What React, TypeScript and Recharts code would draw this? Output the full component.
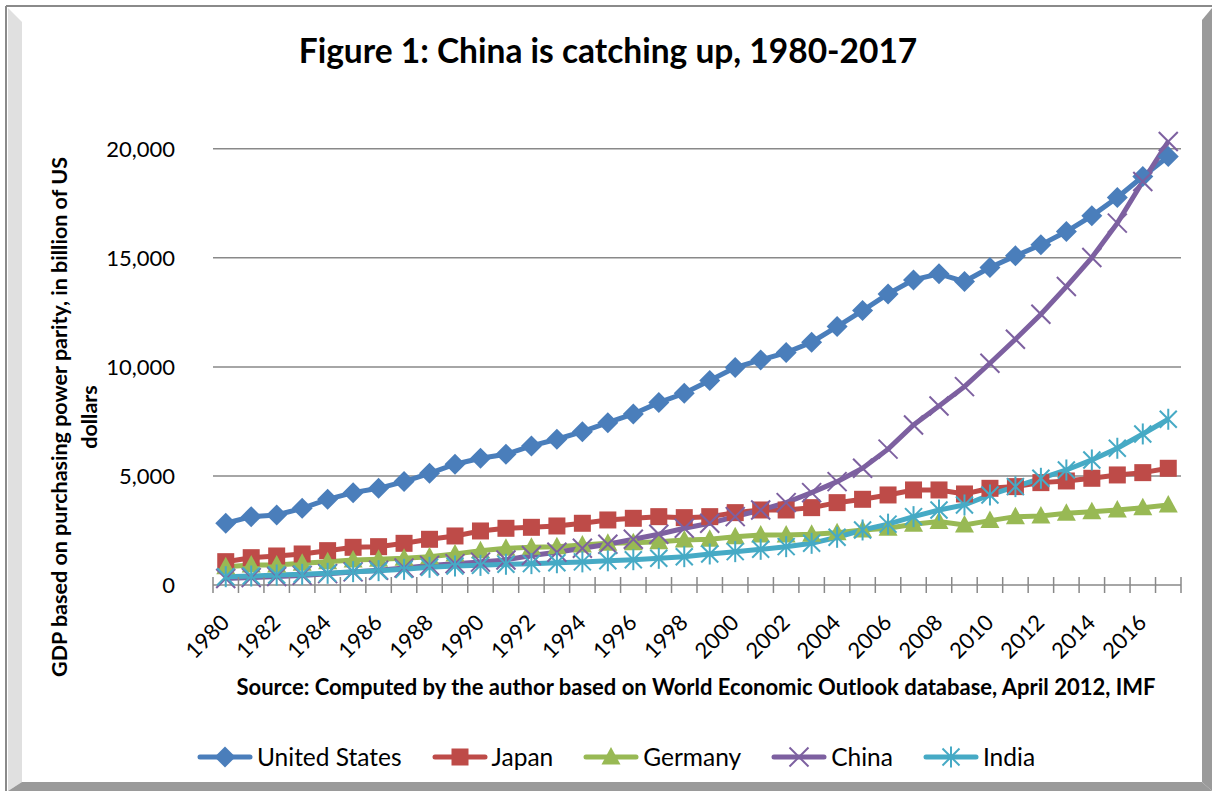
import React from "react";
import { LineChart, Line, XAxis, YAxis, ReferenceLine } from "recharts";

const YEARS = [
  "1980", "1981", "1982", "1983", "1984", "1985", "1986", "1987", "1988", "1989",
  "1990", "1991", "1992", "1993", "1994", "1995", "1996", "1997", "1998", "1999",
  "2000", "2001", "2002", "2003", "2004", "2005", "2006", "2007", "2008", "2009",
  "2010", "2011", "2012", "2013", "2014", "2015", "2016", "2017",
];

const US = [
  2830, 3134, 3211, 3517, 3930, 4235, 4434, 4740, 5123, 5536,
  5811, 5995, 6376, 6683, 7032, 7445, 7844, 8363, 8792, 9372,
  9968, 10321, 10657, 11132, 11850, 12583, 13348, 13990, 14266, 13913,
  14556, 15091, 15596, 16206, 16926, 17766, 18729, 19646,
];
const JAPAN = [
  1070, 1253, 1330, 1422, 1575, 1728, 1758, 1911, 2096, 2248,
  2477, 2600, 2645, 2706, 2830, 2982, 3058, 3134, 3089, 3134,
  3318, 3440, 3440, 3547, 3776, 3930, 4128, 4358, 4358, 4174,
  4434, 4511, 4694, 4770, 4893, 5046, 5152, 5352,
];
const GERMANY = [
  841, 917, 917, 994, 1070, 1147, 1177, 1223, 1299, 1422,
  1575, 1682, 1728, 1758, 1835, 1911, 1942, 1988, 2064, 2094,
  2217, 2294, 2294, 2325, 2401, 2523, 2600, 2784, 2906, 2752,
  2952, 3134, 3165, 3288, 3364, 3440, 3547, 3670,
];
const CHINA = [
  300, 340, 390, 440, 520, 600, 680, 780, 900, 980,
  1050, 1150, 1350, 1500, 1683, 1867, 2096, 2325, 2600, 2830,
  3134, 3440, 3776, 4235, 4740, 5353, 6230, 7339, 8211, 9096,
  10169, 11270, 12417, 13683, 15013, 16591, 18500, 20335,
];
const INDIA = [
  381, 412, 459, 490, 535, 612, 657, 718, 810, 871,
  900, 950, 980, 1020, 1060, 1110, 1160, 1223, 1299, 1422,
  1529, 1636, 1758, 1911, 2187, 2523, 2790, 3134, 3440, 3670,
  4128, 4511, 4893, 5275, 5734, 6270, 6926, 7600,
];
const Y_TICKS = [0, 5000, 10000, 15000, 20000];

const SERIES = [
  { key: "us", name: "United States", values: US, color: "#4A7EBB", marker: "diamond" },
  { key: "japan", name: "Japan", values: JAPAN, color: "#BE4B48", marker: "square" },
  { key: "germany", name: "Germany", values: GERMANY, color: "#98B954", marker: "triangle" },
  { key: "china", name: "China", values: CHINA, color: "#7D60A0", marker: "cross" },
  { key: "india", name: "India", values: INDIA, color: "#46AAC5", marker: "star" },
];

const data = YEARS.map((year, i) => {
  const row: Record<string, string | number> = { year };
  SERIES.forEach((s) => (row[s.key] = s.values[i]));
  return row;
});

const FONT = "Lato, 'Open Sans', sans-serif";
const GRID = "#898989";
const STEP = 968 / YEARS.length;

function Marker({ type, cx, cy, color }: { type: string; cx: number; cy: number; color: string }) {
  if (type === "diamond")
    return <polygon points={`${cx},${cy - 10.5} ${cx + 10.5},${cy} ${cx},${cy + 10.5} ${cx - 10.5},${cy}`} fill={color} />;
  if (type === "square") return <rect x={cx - 8.5} y={cy - 8.5} width={17} height={17} fill={color} />;
  if (type === "triangle")
    return <polygon points={`${cx},${cy - 10} ${cx + 9.5},${cy + 7.5} ${cx - 9.5},${cy + 7.5}`} fill={color} />;
  if (type === "cross")
    return (
      <g stroke={color} strokeWidth={2}>
        <line x1={cx - 9.5} y1={cy - 9.5} x2={cx + 9.5} y2={cy + 9.5} />
        <line x1={cx - 9.5} y1={cy + 9.5} x2={cx + 9.5} y2={cy - 9.5} />
      </g>
    );
  return (
    <g stroke={color} strokeWidth={2}>
      <line x1={cx - 8.5} y1={cy - 8.5} x2={cx + 8.5} y2={cy + 8.5} />
      <line x1={cx - 8.5} y1={cy + 8.5} x2={cx + 8.5} y2={cy - 8.5} />
      <line x1={cx} y1={cy - 10.5} x2={cx} y2={cy + 10.5} />
    </g>
  );
}

function YearTick(props: any) {
  const { x, y, payload } = props;
  const i = payload.index ?? props.index;
  const half = STEP / 2;
  return (
    <g>
      <line x1={x - half} x2={x - half} y1={y - 8} y2={y + 8} stroke={GRID} strokeWidth={1.5} />
      {i === YEARS.length - 1 && (
        <line x1={x + half} x2={x + half} y1={y - 8} y2={y + 8} stroke={GRID} strokeWidth={1.5} />
      )}
      {i % 2 === 0 && (
        <text
          x={x + 5}
          y={y + 39}
          transform={`rotate(-45 ${x + 5} ${y + 39})`}
          textAnchor="end"
          fontFamily={FONT}
          fontSize={22}
          fill="#000"
        >
          {payload.value}
        </text>
      )}
    </g>
  );
}

function Frame() {
  return (
    <svg width={1212} height={791} style={{ position: "absolute", left: 0, top: 0 }}>
      <rect x={0} y={0} width={1212} height={791} fill="#fff" />
      <polygon points="8,8 22,22 22,782 8,791" fill="#e0e0e0" />
      <polygon points="1202,20 1212,8 1212,791 1202,782" fill="#9a9a9a" />
      <polygon points="8,791 22,782 1202,782 1212,791" fill="#9a9a9a" />
      <line x1={6} y1={6} x2={1212} y2={6} stroke="#8a8a8a" strokeWidth={2} />
      <line x1={6} y1={6} x2={6} y2={791} stroke="#8a8a8a" strokeWidth={2} />
      <text x={608} y={63} textAnchor="middle" fontFamily={FONT} fontWeight={700} fontSize={33.5}>
        Figure 1: China is catching up, 1980-2017
      </text>
      <text x={696} y={695} textAnchor="middle" fontFamily={FONT} fontWeight={700} fontSize={22}>
        Source: Computed by the author based on World Economic Outlook database, April 2012, IMF
      </text>
      <g transform="rotate(-90 0 0)" fontFamily={FONT} fontWeight={700} fontSize={21.5} textAnchor="middle">
        <text x={-417} y={67}>GDP based on purchasing power parity, in billion of US</text>
        <text x={-417} y={97}>dollars</text>
      </g>
    </svg>
  );
}

function LegendRow() {
  return (
    <div
      style={{
        position: "absolute",
        left: 0,
        top: 742,
        width: 1232,
        display: "flex",
        justifyContent: "center",
        gap: 30,
        fontFamily: FONT,
        fontSize: 24.5,
        lineHeight: "30px",
      }}
    >
      {SERIES.map((s) => (
        <div key={s.key} style={{ display: "flex", alignItems: "center" }}>
          <svg width={56} height={30} style={{ marginRight: 4 }}>
            <line x1={3} y1={15} x2={53} y2={15} stroke={s.color} strokeWidth={5} strokeLinecap="round" />
            <Marker type={s.marker} cx={28} cy={15} color={s.color} />
          </svg>
          <span>{s.name}</span>
        </div>
      ))}
    </div>
  );
}

export default function App() {
  return (
    <div style={{ position: "absolute", left: 0, top: 0, width: 1212, height: 791 }}>
      <Frame />
      <div style={{ position: "absolute", left: 0, top: 0 }}>
        <LineChart width={1212} height={791} data={data} margin={{ top: 127, right: 31, bottom: 146, left: 113 }}>
          {Y_TICKS.slice(1).map((t) => (
            <ReferenceLine key={t} y={t} stroke={GRID} strokeWidth={1.5} />
          ))}
          <XAxis
            dataKey="year"
            interval={0}
            height={60}
            padding={{ left: STEP / 2, right: STEP / 2 }}
            tickSize={0}
            tickMargin={0}
            tickLine={false}
            axisLine={{ stroke: GRID, strokeWidth: 1.5 }}
            tick={<YearTick />}
          />
          <YAxis
            width={100}
            domain={[0, 21000]}
            ticks={Y_TICKS}
            tickSize={0}
            tickMargin={38}
            tickLine={false}
            axisLine={false}
            tickFormatter={(v: number) => v.toLocaleString("en-US")}
            tick={{ fontFamily: FONT, fontSize: 22, fill: "#000" }}
          />
          {SERIES.map((s) => (
            <Line
              key={s.key}
              dataKey={s.key}
              name={s.name}
              type="linear"
              stroke={s.color}
              strokeWidth={5}
              isAnimationActive={false}
              dot={(p: any) => <Marker key={`${s.key}-${p.index}`} type={s.marker} cx={p.cx} cy={p.cy} color={s.color} />}
              activeDot={false}
            />
          ))}
        </LineChart>
      </div>
      <LegendRow />
    </div>
  );
}
